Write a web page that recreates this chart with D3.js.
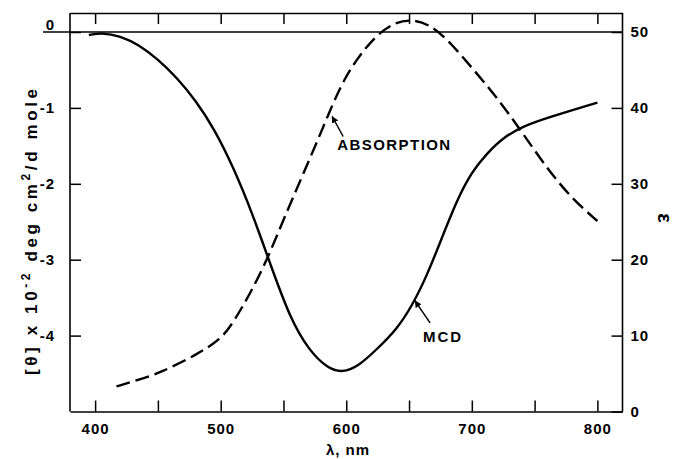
<!DOCTYPE html>
<html><head><meta charset="utf-8">
<script src="https://cdn.jsdelivr.net/npm/d3@7"></script>
<style>
body{margin:0;background:#fff}
text{font-family:"Liberation Sans",Arial,Helvetica,sans-serif;font-weight:bold;fill:#000}
</style>
</head><body>
<svg id="chart" width="676" height="459"></svg>
<script>
// ---- data ----
const mcdWavelength = [395, 405, 420, 435, 450, 465, 480, 495, 510, 525, 540, 555, 570, 585, 597, 610, 625, 640, 652, 664, 676, 688, 700, 712, 725, 741, 760, 800];
const mcdValue      = [-0.04, -0.01, -0.05, -0.17, -0.36, -0.6, -0.9, -1.28, -1.78, -2.38, -3.08, -3.76, -4.19, -4.43, -4.49, -4.4, -4.17, -3.92, -3.62, -3.22, -2.72, -2.22, -1.84, -1.6, -1.39, -1.24, -1.13, -0.93];
const absWavelength = [417, 435, 452, 481, 500, 510, 524, 537, 550, 566, 582, 595, 608, 624, 638, 651, 667, 683, 700, 720, 740, 760, 780, 800];
const absEpsilon    = [3.3, 4.2, 5.1, 7.5, 9.5, 11.7, 15.7, 20, 25.3, 31.4, 37.6, 42.8, 46.4, 49.6, 51.2, 51.7, 51.0, 48.6, 45.3, 41.4, 36.8, 32.0, 28.0, 25.1];
const xTickValues   = [400, 450, 500, 550, 600, 650, 700, 750, 800];
const xTickLabels   = ["400", "", "500", "", "600", "", "700", "", "800"];
const leftTickValues = [0, -1, -2, -3, -4];
const leftTickLabels = ["0", "-1", "-2", "-3", "-4"];
const rightTickValues = [0, 10, 20, 30, 40, 50];
const rightTickLabels = ["0", "10", "20", "30", "40", "50"];
const annotations = [
  {text: "ABSORPTION", series: "abs", wl: 588, v: 39.0},
  {text: "MCD", series: "mcd", wl: 654, v: -3.53}
];

// ---- layout ----
const svg = d3.select("#chart");
const L = 70, R = 622.5, T = 13, B = 411.5;
const x = d3.scaleLinear().domain([380, 820]).range([L, R]);
const yL = d3.scaleLinear().domain([-5, 0]).range([B, 32]);
const yR = d3.scaleLinear().domain([0, 50]).range([B, 32]);
const AX = 1.6;

function style(g){
  g.selectAll("path.domain").attr("stroke","#000").attr("stroke-width",AX);
  g.selectAll(".tick line").attr("stroke","#000").attr("stroke-width",1.5);
  g.selectAll(".tick text").attr("font-size",15).attr("font-family",'"Liberation Sans",Arial,sans-serif').attr("font-weight","bold").attr("fill","#000").attr("letter-spacing",1);
}

// bottom axis
const gB = svg.append("g").attr("transform",`translate(0,${B})`)
  .call(d3.axisBottom(x).tickValues(xTickValues).tickSizeInner(-11).tickSizeOuter(0).tickPadding(12)
    .tickFormat((d,i)=>xTickLabels[i]));
style(gB);
// top border with ticks
const gT = svg.append("g").attr("transform",`translate(0,${T})`)
  .call(d3.axisTop(x).tickValues(xTickValues).tickSizeInner(-11).tickSizeOuter(0).tickFormat(""));
style(gT);
// left axis
const gL = svg.append("g").attr("transform",`translate(${L},0)`)
  .call(d3.axisLeft(yL).tickValues(leftTickValues).tickSizeInner(-11).tickSizeOuter(0).tickPadding(15)
    .tickFormat((d,i)=>leftTickLabels[i]));
gL.select("path.domain").attr("d",`M0,${T}V${B}`);
style(gL);
gL.selectAll(".tick").filter(d=>d===0).select("text").attr("dy","-0.2em");
// right axis
const gR = svg.append("g").attr("transform",`translate(${R},0)`)
  .call(d3.axisRight(yR).tickValues(rightTickValues).tickSizeInner(-11).tickSizeOuter(0).tickPadding(8)
    .tickFormat((d,i)=>rightTickLabels[i]));
gR.select("path.domain").attr("d",`M0,${T}V${B}`);
style(gR);

// zero line
svg.append("line").attr("x1",43).attr("x2",R).attr("y1",yL(0)).attr("y2",yL(0))
  .attr("stroke","#000").attr("stroke-width",AX);

// curves
const line = d3.line().curve(d3.curveBasis);
const mcdPts = mcdWavelength.map((w,i)=>[x(w), yL(mcdValue[i])]);
const absPts = absWavelength.map((w,i)=>[x(w), yR(absEpsilon[i])]);
svg.append("path").attr("d",line(mcdPts)).attr("fill","none").attr("stroke","#000").attr("stroke-width",2.4);
svg.append("path").attr("d",line(absPts)).attr("fill","none").attr("stroke","#000").attr("stroke-width",2.4)
  .attr("stroke-dasharray","14,6");

// arrow marker
svg.append("defs").append("marker").attr("id","ah").attr("viewBox","0 0 10 10")
  .attr("refX",9).attr("refY",5).attr("markerWidth",7).attr("markerHeight",7)
  .attr("markerUnits","userSpaceOnUse").attr("orient","auto")
  .append("path").attr("d","M0,0L10,5L0,10z").attr("fill","#000");

// annotations
annotations.forEach(a=>{
  const tx = x(a.wl), ty = a.series==="abs" ? yR(a.v) : yL(a.v);
  if(a.series==="abs"){
    svg.append("line").attr("x1",tx+12).attr("y1",ty+21).attr("x2",tx+1).attr("y2",ty+1)
      .attr("stroke","#000").attr("stroke-width",1.5).attr("marker-end","url(#ah)");
    svg.append("text").attr("x",tx+6).attr("y",ty+34.5).attr("font-size",15)
      .attr("textLength",113).attr("lengthAdjust","spacing").text(a.text);
  } else {
    svg.append("line").attr("x1",tx+16).attr("y1",ty+23).attr("x2",tx+1).attr("y2",ty+1)
      .attr("stroke","#000").attr("stroke-width",1.5).attr("marker-end","url(#ah)");
    svg.append("text").attr("x",tx+9).attr("y",ty+42).attr("font-size",15)
      .attr("textLength",38).attr("lengthAdjust","spacing").text(a.text);
  }
});

// axis titles
const yt = svg.append("text").attr("transform","translate(37,232) rotate(-90)")
  .attr("text-anchor","middle").attr("font-size",17)
  .attr("textLength",286).attr("lengthAdjust","spacing");
yt.append("tspan").text("[θ] x 10");
yt.append("tspan").attr("dy",-7).attr("font-size",12).text("-2");
yt.append("tspan").attr("dy",7).text(" deg cm");
yt.append("tspan").attr("dy",-7).attr("font-size",12).text("2");
yt.append("tspan").attr("dy",7).text("/d mole");

svg.append("text").attr("x",348).attr("y",455).attr("text-anchor","middle")
  .attr("font-size",15).attr("letter-spacing",1).text("λ, nm");

svg.append("text").attr("transform","translate(658,218) rotate(90)")
  .attr("text-anchor","middle").attr("font-size",20).text("ε");
</script>
</body></html>
